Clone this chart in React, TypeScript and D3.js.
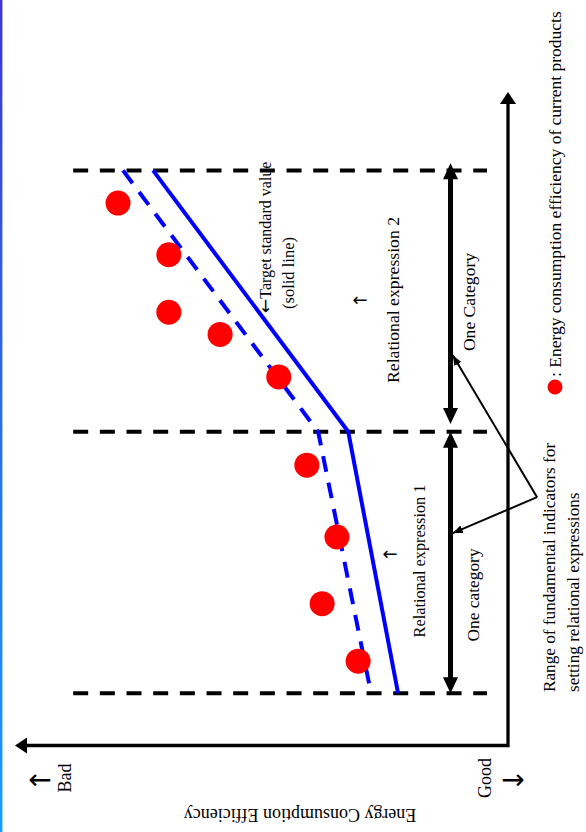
import * as d3 from "d3";

// Values. Indicator = vertical in the picture (up = larger),
// energy use = horizontal (left = larger = bad).
const categoryBounds = [8, 48, 88];
const boundaryExtent = [88.2, 4.26];
const categoryArrows = [
  { from: 8, to: 48 },
  { from: 49.2, to: 89.1 },
];
const categoryArrowValue = 11.66;

const targetIndicator = [88, 48, 8];
const targetValue = [72, 32.4, 22.3];

const trendIndicator = [88, 48, 9.2];
const trendValue = [78.1, 38.5, 28.1];

const productIndicator = [83.0, 75.1, 66.3, 62.9, 56.4, 42.9, 31.9, 21.7, 12.9];
const productValue = [79.1, 68.8, 68.8, 58.4, 46.5, 40.8, 34.7, 37.7, 30.4];

const pointerFrom = { u: 38, e: -5.9 };
const pointerTo = [
  { u: 59.7, e: 11.2 },
  { u: 32.5, e: 11.2 },
];

const W = 586;
const H = 832;
const FONT = "'Liberation Serif', 'Times New Roman', serif";
const ARROW_FONT = "'DejaVu Sans', sans-serif";

//scales
const x = d3.scaleLinear().domain([0, 100]).range([508, 15]);
const y = d3.scaleLinear().domain([0, 100]).range([745.5, 92]);

const line = d3
  .line<[number, number]>()
  .x((d) => x(d[1]))
  .y((d) => y(d[0]));

// filled triangle with tip at (tx,ty) pointing along (dx,dy)
const head = (tx: number, ty: number, dx: number, dy: number, len: number, half: number) => {
  const bx = tx - dx * len;
  const by = ty - dy * len;
  return `M${tx},${ty}L${bx - dy * half},${by + dx * half}L${bx + dy * half},${by - dx * half}Z`;
};

// text written bottom-to-top
const UpText = ({ cx, cy, size, anchor = "middle", family = FONT, children }: any) => (
  <text
    transform={`translate(${cx},${cy}) rotate(-90)`}
    fontSize={size}
    textAnchor={anchor}
    dy="0.33em"
    fontFamily={family}
    fill="#000"
  >
    {children}
  </text>
);

// small arrow glyph, not rotated
const Arrow = ({ cx, cy, size, children }: any) => (
  <text
    x={cx}
    y={cy}
    dy="0.32em"
    fontSize={size}
    textAnchor="middle"
    fontFamily={ARROW_FONT}
    fill="#000"
  >
    {children}
  </text>
);

export default function App() {
  const target = line(targetIndicator.map((u, i) => [u, targetValue[i]]));
  const trend = line(trendIndicator.map((u, i) => [u, trendValue[i]]));

  const ox = x(0);
  const oy = y(0);
  const ax = x(100);
  const ay = y(100);
  const aLen = 12;

  return (
    <div style={{ position: "absolute", left: 0, top: 0 }}>
      <svg width={W} height={H} style={{ display: "block", background: "#fff" }}>
        <defs>
          <linearGradient id="edge" x1="0" y1="0" x2="0" y2="1">
            <stop offset="0" stopColor="#3d36d2" />
            <stop offset="0.5" stopColor="#2c6ee4" />
            <stop offset="1" stopColor="#189cff" />
          </linearGradient>
          <marker
            id="ptr"
            markerUnits="userSpaceOnUse"
            markerWidth="12"
            markerHeight="10"
            refX="10"
            refY="4"
            orient="auto"
          >
            <path d="M0,0L10,4L0,8Z" fill="#000" />
          </marker>
        </defs>
        <rect x={0} y={0} width={2.4} height={H} fill="url(#edge)" />

        {/* category boundaries */}
        {categoryBounds.map((u) => (
          <line
            key={u}
            x1={x(boundaryExtent[0])}
            x2={x(boundaryExtent[1])}
            y1={y(u)}
            y2={y(u)}
            stroke="#000"
            strokeWidth={4}
            strokeDasharray="15 11.67"
          />
        ))}

        {/* axes */}
        <path
          d={`M${ax + aLen - 1},${oy}L${ox},${oy}L${ox},${ay + aLen - 1}`}
          fill="none"
          stroke="#000"
          strokeWidth={3.3}
        />
        <path d={head(ax, oy, -1, 0, aLen, 8)} fill="#000" />
        <path d={head(ox, ay, 0, -1, aLen, 8)} fill="#000" />

        {/* category ranges */}
        {categoryArrows.map((c, i) => {
          const cx = x(categoryArrowValue);
          const y1 = y(c.from);
          const y2 = y(c.to);
          return (
            <g key={i}>
              <line x1={cx} x2={cx} y1={y1 - 14} y2={y2 + 14} stroke="#000" strokeWidth={5} />
              <path d={head(cx, y1, 0, 1, 16, 7.5)} fill="#000" />
              <path d={head(cx, y2, 0, -1, 16, 7.5)} fill="#000" />
            </g>
          );
        })}

        {/* pointers to the ranges */}
        {pointerTo.map((p, i) => (
          <line
            key={i}
            x1={x(pointerFrom.e)}
            y1={y(pointerFrom.u)}
            x2={x(p.e)}
            y2={y(p.u)}
            stroke="#000"
            strokeWidth={2}
            markerEnd="url(#ptr)"
          />
        ))}

        {/* lines */}
        <path d={trend ?? ""} fill="none" stroke="#0000ff" strokeWidth={4} strokeDasharray="16 11" />
        <path d={target ?? ""} fill="none" stroke="#0000ff" strokeWidth={4} strokeLinejoin="round" />

        {/* current products */}
        {productIndicator.map((u, i) => (
          <circle key={i} cx={x(productValue[i])} cy={y(u)} r={12.5} fill="#ff0000" />
        ))}

        {/* labels */}
        <UpText cx={266} cy={313} size={16} anchor="start">
          <tspan fontFamily={ARROW_FONT} fontSize={17}>←</tspan>Target standard value
        </UpText>
        <UpText cx={289} cy={309} size={16.5} anchor="start">
          (solid line)
        </UpText>
        <Arrow cx={360} cy={300} size={18}>
          ←
        </Arrow>
        <UpText cx={393} cy={300} size={17.7}>
          Relational expression 2
        </UpText>
        <Arrow cx={390} cy={554} size={18}>
          ←
        </Arrow>
        <UpText cx={420} cy={561} size={16.3}>
          Relational expression 1
        </UpText>
        <UpText cx={469} cy={302} size={17.6}>
          One Category
        </UpText>
        <UpText cx={473} cy={595} size={17.4}>
          One category
        </UpText>
        <UpText cx={549} cy={692} size={17.2} anchor="start">
          Range of fundamental indicators for
        </UpText>
        <UpText cx={573} cy={692} size={17.2} anchor="start">
          setting relational expressions
        </UpText>

        <circle cx={555} cy={387} r={7.5} fill="#ff0000" />
        <UpText cx={555} cy={377} size={17.5} anchor="start">
          : Energy consumption efficiency of current products
        </UpText>

        <Arrow cx={40} cy={780} size={28}>
          ←
        </Arrow>
        <UpText cx={65} cy={778} size={18}>
          Bad
        </UpText>
        <UpText cx={485} cy={778} size={18}>
          Good
        </UpText>
        <Arrow cx={513} cy={780} size={28}>
          →
        </Arrow>

        <text
          transform="translate(300,809) rotate(180)"
          fontSize={18}
          textAnchor="middle"
          fontFamily={FONT}
          fill="#000"
        >
          Energy Consumption Efficiency
        </text>
      </svg>
    </div>
  );
}
